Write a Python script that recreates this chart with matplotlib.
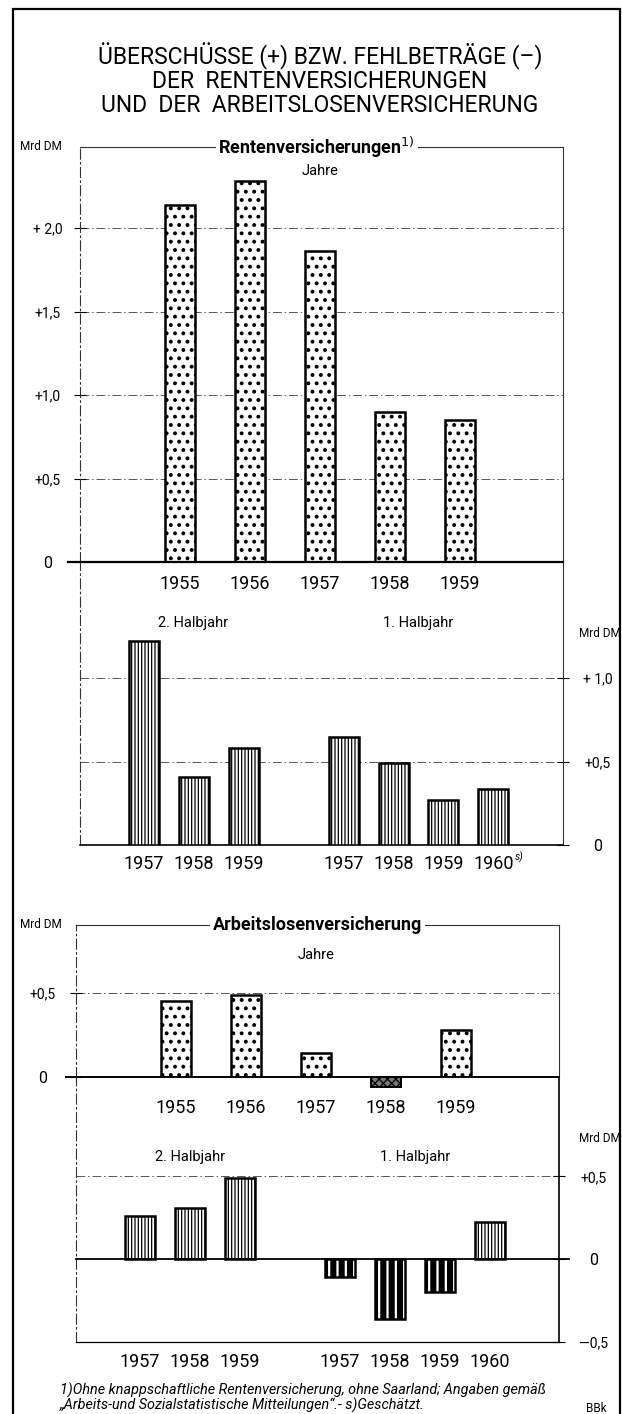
import matplotlib
matplotlib.use("Agg")
import matplotlib.pyplot as plt
from matplotlib.transforms import blended_transform_factory
from matplotlib.patches import Rectangle

# ---------------- data ----------------
title_lines = ["ÜBERSCHÜSSE (+) BZW. FEHLBETRÄGE (–)",
               "DER  RENTENVERSICHERUNGEN",
               "UND  DER  ARBEITSLOSENVERSICHERUNG"]
years_jahre = ["1955", "1956", "1957", "1958", "1959"]
years_h2 = ["1957", "1958", "1959"]
years_h1 = ["1957", "1958", "1959", "1960"]

ren_jahre = [2.14, 2.28, 1.86, 0.90, 0.85]
ren_h2 = [1.22, 0.41, 0.58]
ren_h1 = [0.645, 0.49, 0.27, 0.335]

alv_jahre = [0.45, 0.49, 0.14, -0.06, 0.28]
alv_h2 = [0.26, 0.31, 0.49]
alv_h1 = [-0.11, -0.36, -0.20, 0.225]

ren_ticks1 = [0, 0.5, 1.0, 1.5, 2.0]
ren_ticklabels1 = ["0", "+0,5", "+1,0", "+1,5", "+ 2,0"]
ren_ticks2 = [0, 0.5, 1.0]
ren_ticklabels2 = ["0", "+0,5", "+ 1,0"]
alv_ticks1 = [0, 0.5]
alv_ticklabels1 = ["0", "+0,5"]
alv_ticks2 = [-0.5, 0, 0.5]
alv_ticklabels2 = ["—0,5", "0", "+0,5"]

footnote1 = "1)Ohne knappschaftliche Rentenversicherung, ohne Saarland; Angaben gemäß"
footnote2 = "„Arbeits-und Sozialstatistische Mitteilungen“.- s)Geschätzt."

# ---------------- style ----------------
FONT = ["Roboto", "DejaVu Sans"]
plt.rcParams["font.family"] = FONT
plt.rcParams["hatch.linewidth"] = 0.9
W, H = 622, 1414
fig = plt.figure(figsize=(W / 100, H / 100), dpi=100)
fig.patch.set_facecolor("white")

GRID = dict(color="#555555", lw=0.7, linestyle=(0, (9, 3, 1.5, 3)))


def add_ax(x0, y0, x1, y1):
    return fig.add_axes([x0 / W, 1 - y1 / H, (x1 - x0) / W, (y1 - y0) / H])


def px(x, y):
    return x / W, 1 - y / H


# outer border
fig.add_artist(Rectangle(px(13, 1418), (620 - 13) / W, (1418 - 9) / H,
                         transform=fig.transFigure, fill=False, lw=1.6,
                         edgecolor="black"))

# title
for t, yy in zip(title_lines, [56, 81, 105]):
    fig.text(*px(320, yy), t, ha="center", va="center", fontsize=16.5)


def frame(ax):
    for s in ax.spines.values():
        s.set_visible(False)
    ax.spines["left"].set_visible(True)
    ax.spines["left"].set_linestyle((0, (9, 3, 1.5, 3)))
    ax.spines["left"].set_linewidth(0.8)
    ax.spines["left"].set_color("#333333")
    ax.spines["right"].set_visible(True)
    ax.spines["right"].set_linewidth(0.8)
    ax.spines["right"].set_color("#333333")
    ax.set_facecolor("none")


def dotted_bars(ax, x, vals, width):
    with plt.rc_context({"hatch.linewidth": 1.6}):
        ax.bar(x, vals, width=width, facecolor="white", edgecolor="black",
               linewidth=1.8, hatch="..", zorder=3)


def striped_bars(ax, x, vals, width):
    pos = [(xi, v) for xi, v in zip(x, vals) if v >= 0]
    neg = [(xi, v) for xi, v in zip(x, vals) if v < 0]
    if pos:
        ax.bar([p[0] for p in pos], [p[1] for p in pos], width=width,
               facecolor="white", edgecolor="black", linewidth=1.8,
               hatch="|||||", zorder=3)
    if neg:
        with plt.rc_context({"hatch.linewidth": 1.6}):
            ax.bar([p[0] for p in neg], [p[1] for p in neg], width=width,
                   facecolor="black", edgecolor="white", linewidth=0,
                   hatch="||", zorder=3)
        ax.bar([p[0] for p in neg], [p[1] for p in neg], width=width,
               fill=False, edgecolor="black", linewidth=1.8, zorder=4)


def center_labels(ax):
    for lab in ax.get_yticklabels():
        lab.set_horizontalalignment("center")


# ============ Panel 1: Rentenversicherungen, Jahre ============
x0, x1 = 80, 563
ax1 = add_ax(x0, 147, x1, 562)
frame(ax1)
ax1.spines["top"].set_visible(True)
ax1.spines["top"].set_linewidth(0.8)
ax1.spines["top"].set_color("#333333")
idx = list(range(len(years_jahre)))
ax1.set_xlim((x0 - 180) / 70, (x1 - 180) / 70)
ax1.set_ylim(0, (562 - 147) / 167)
for v in ren_ticks1[1:]:
    ax1.axhline(v, **GRID, zorder=1)
ax1.axhline(0, color="black", lw=1.6, xmin=-0.025, xmax=1.0, clip_on=False, zorder=5)
dotted_bars(ax1, idx, ren_jahre, 30 / 70)
ax1.set_yticks(ren_ticks1)
ax1.set_yticklabels(ren_ticklabels1)
ax1.tick_params(axis="y", direction="inout", length=8, width=0.8, pad=19,
                labelsize=10)
center_labels(ax1)
ax1.get_yticklabels()[0].set_fontsize(11.5)
ax1.set_xticks(idx)
ax1.set_xticklabels(years_jahre)
ax1.tick_params(axis="x", length=0, pad=9, labelsize=13)
ax1.text(2, (562 - 171) / 167, "Jahre", ha="center", va="center", fontsize=10.5)
ax1.text(0.49, 1.0, "Rentenversicherungen$^{1)}$", transform=ax1.transAxes,
         ha="center", va="center", fontsize=13, fontweight="bold",
         bbox=dict(facecolor="white", edgecolor="none", pad=2), zorder=6)
fig.text(*px(41, 147), "Mrd DM", ha="center", va="center", fontsize=8.5)

# ============ Panel 2: Rentenversicherungen, Halbjahre ============
ax2 = add_ax(x0, 562, x1, 845)
frame(ax2)
ax2.spines["bottom"].set_visible(True)
ax2.spines["bottom"].set_linewidth(1.2)
pos_h2 = list(range(len(years_h2)))
pos_h1 = [len(years_h2) + 1 + i for i in range(len(years_h1))]
ax2.set_xlim((x0 - 143.5) / 50, (x1 - 143.5) / 50)
ax2.set_ylim(0, (845 - 562) / 167)
for v in ren_ticks2[1:]:
    ax2.axhline(v, **GRID, zorder=1)
striped_bars(ax2, pos_h2, ren_h2, 0.6)
striped_bars(ax2, pos_h1, ren_h1, 0.6)
ax2.yaxis.tick_right()
ax2.set_yticks(ren_ticks2)
ax2.set_yticklabels(ren_ticklabels2)
ax2.tick_params(axis="y", direction="inout", length=8, width=0.8, pad=21,
                labelsize=10)
center_labels(ax2)
ax2.get_yticklabels()[0].set_fontsize(11.5)
ax2.set_xticks(pos_h2 + pos_h1)
ax2.set_xticklabels(years_h2 + years_h1)
ax2.tick_params(axis="x", length=0, pad=7, labelsize=13)
tr2x = blended_transform_factory(ax2.transData, ax2.transAxes)
ax2.text(pos_h1[-1] + 0.42, -0.045, "s)", transform=tr2x, ha="left",
         va="center", fontsize=7.5, style="italic")
ax2.text(1, (845 - 623) / 283, "2. Halbjahr", transform=tr2x, ha="center",
         va="center", fontsize=10.5)
ax2.text(5.5, (845 - 623) / 283, "1. Halbjahr", transform=tr2x, ha="center",
         va="center", fontsize=10.5)
fig.text(*px(600, 633), "Mrd DM", ha="center", va="center", fontsize=8.5)

# ============ Panel 3: Arbeitslosenversicherung, Jahre ============
x0b, x1b = 76, 559
ax3 = add_ax(x0b, 925, x1b, 1077)
frame(ax3)
ax3.spines["top"].set_visible(True)
ax3.spines["top"].set_linewidth(0.8)
ax3.spines["top"].set_color("#333333")
ax3.set_xlim((x0b - 176) / 70, (x1b - 176) / 70)
ax3.set_ylim(0, (1077 - 925) / 168)
for v in alv_ticks1[1:]:
    ax3.axhline(v, **GRID, zorder=1)
ax3.axhline(0, color="black", lw=1.4, xmin=-0.02, xmax=1.0, clip_on=False, zorder=5)
posv = [(i, v) for i, v in zip(idx, alv_jahre) if v >= 0]
negv = [(i, v) for i, v in zip(idx, alv_jahre) if v < 0]
dotted_bars(ax3, [p[0] for p in posv], [p[1] for p in posv], 30 / 70)
ax3.bar([p[0] for p in negv], [p[1] for p in negv], width=30 / 70,
        facecolor="#777777", edgecolor="black", linewidth=1.4, hatch="xxxx",
        zorder=3, clip_on=False)
ax3.set_yticks(alv_ticks1)
ax3.set_yticklabels(alv_ticklabels1)
ax3.tick_params(axis="y", direction="inout", length=8, width=0.8, pad=20,
                labelsize=10)
center_labels(ax3)
ax3.get_yticklabels()[0].set_fontsize(11.5)
ax3.set_xticks(idx)
ax3.set_xticklabels(years_jahre)
ax3.tick_params(axis="x", length=0, pad=16, labelsize=13)
ax3.text(2, (1077 - 955) / 168, "Jahre", ha="center", va="center", fontsize=10.5)
ax3.text(0.5, 1.0, "Arbeitslosenversicherung", transform=ax3.transAxes,
         ha="center", va="center", fontsize=13, fontweight="bold",
         bbox=dict(facecolor="white", edgecolor="none", pad=2), zorder=6)
fig.text(*px(41, 925), "Mrd DM", ha="center", va="center", fontsize=8.5)

# ============ Panel 4: Arbeitslosenversicherung, Halbjahre ============
ax4 = add_ax(x0b, 1077, x1b, 1342)
frame(ax4)
ax4.spines["bottom"].set_visible(True)
ax4.spines["bottom"].set_linewidth(0.9)
ax4.spines["right"].set_linewidth(1.2)
ax4.spines["right"].set_color("black")
ax4.set_xlim((x0b - 140) / 50, (x1b - 140) / 50)
ax4.set_ylim((1262 - 1342) / 168, (1262 - 1077) / 168)
ax4.axhline(0.5, **GRID, zorder=1)
ax4.axhline(0, color="black", lw=1.3, xmin=0, xmax=1.02, clip_on=False, zorder=5)
striped_bars(ax4, pos_h2, alv_h2, 0.6)
striped_bars(ax4, pos_h1, alv_h1, 0.6)
ax4.yaxis.tick_right()
ax4.set_yticks(alv_ticks2)
ax4.set_yticklabels(alv_ticklabels2)
ax4.tick_params(axis="y", direction="inout", length=8, width=0.8, pad=21,
                labelsize=10)
center_labels(ax4)
ax4.get_yticklabels()[1].set_fontsize(11.5)
ax4.set_xticks(pos_h2 + pos_h1)
ax4.set_xticklabels(years_h2 + years_h1)
ax4.tick_params(axis="x", length=0, pad=8, labelsize=13)
tr4 = blended_transform_factory(ax4.transData, ax4.transAxes)
ax4.text(1, (1342 - 1157) / 265, "2. Halbjahr", transform=tr4, ha="center",
         va="center", fontsize=10.5)
ax4.text(5.5, (1342 - 1157) / 265, "1. Halbjahr", transform=tr4, ha="center",
         va="center", fontsize=10.5)
fig.text(*px(600, 1138), "Mrd DM", ha="center", va="center", fontsize=8.5)

# footnotes
fig.text(*px(60, 1390), footnote1, ha="left", va="center", fontsize=10.4,
         style="italic")
fig.text(*px(60, 1405), footnote2, ha="left", va="center", fontsize=10.4,
         style="italic")
fig.text(*px(596, 1408), "BBk", ha="center", va="center", fontsize=8.5)

fig.savefig("out.png", dpi=100, facecolor="white")
